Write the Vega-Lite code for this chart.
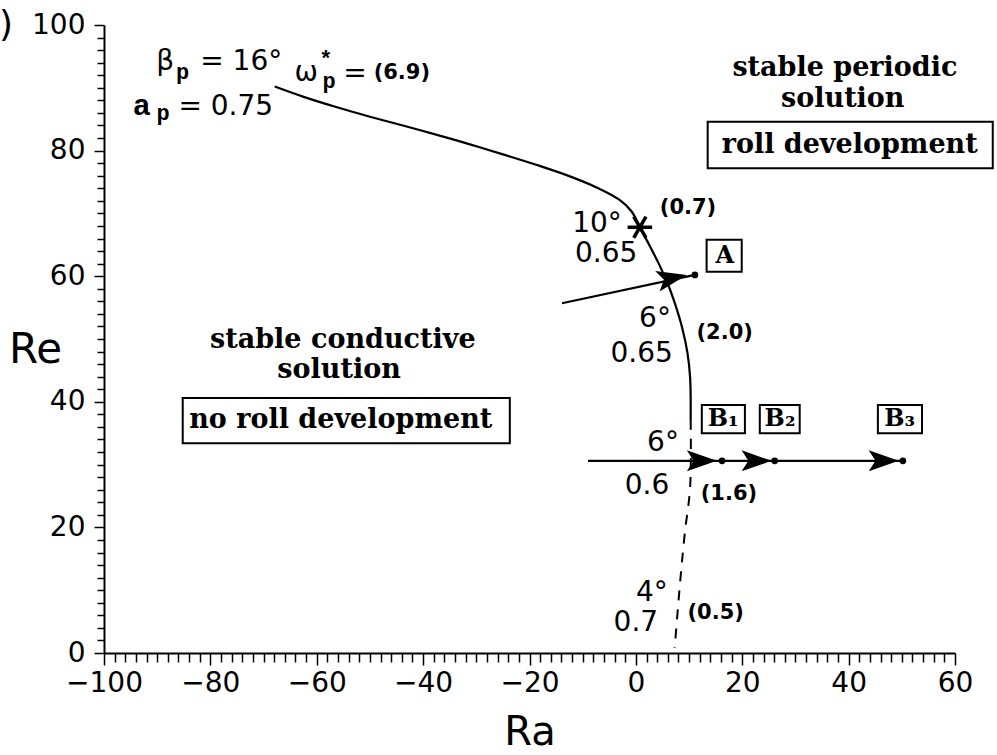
{
  "$schema": "https://vega.github.io/schema/vega-lite/v6.json",
  "width": 851,
  "height": 628,
  "autosize": {"type": "none"},
  "padding": {"left": 104, "top": 25, "right": 42, "bottom": 102},
  "background": "white",
  "config": {
    "view": {"stroke": null},
    "text": {"color": "black"}
  },
  "datasets": {
    "boundary": [
      {"i": 1, "x": -67.9, "y": 90.2},
      {"i": 2, "x": -62.6, "y": 88.6},
      {"i": 3, "x": -56.2, "y": 86.9},
      {"i": 4, "x": -50.0, "y": 85.4},
      {"i": 5, "x": -43.8, "y": 84.0},
      {"i": 6, "x": -37.4, "y": 82.5},
      {"i": 7, "x": -31.2, "y": 81.0},
      {"i": 8, "x": -25.0, "y": 79.4},
      {"i": 9, "x": -18.6, "y": 77.7},
      {"i": 10, "x": -12.4, "y": 75.9},
      {"i": 11, "x": -7.3, "y": 74.1},
      {"i": 12, "x": -3.0, "y": 72.1},
      {"i": 13, "x": -0.8, "y": 70.3},
      {"i": 14, "x": 0.75, "y": 67.8},
      {"i": 15, "x": 2.5, "y": 65.0},
      {"i": 16, "x": 4.3, "y": 62.0},
      {"i": 17, "x": 6.0, "y": 58.8},
      {"i": 18, "x": 7.4, "y": 55.5},
      {"i": 19, "x": 8.7, "y": 51.8},
      {"i": 20, "x": 9.7, "y": 47.8},
      {"i": 21, "x": 10.2, "y": 43.8},
      {"i": 22, "x": 10.3, "y": 37.1}
    ],
    "boundaryDashed": [
      {"i": 1, "x": 10.3, "y": 37.1},
      {"i": 2, "x": 10.2, "y": 26.4},
      {"i": 3, "x": 9.2, "y": 19.1},
      {"i": 4, "x": 8.3, "y": 11.1},
      {"i": 5, "x": 7.3, "y": 0.8}
    ],
    "paths": [
      {"path": "A", "x": -13.9, "y": 55.7},
      {"path": "A", "x": 11.1, "y": 60.2},
      {"path": "B", "x": -9.0, "y": 30.6},
      {"path": "B", "x": 50.2, "y": 30.6}
    ],
    "headA": [{"x": 6.8, "y": 59.7}],
    "headB": [
      {"x": 12.4, "y": 30.6},
      {"x": 22.7, "y": 30.6},
      {"x": 46.6, "y": 30.6}
    ],
    "endpoints": [
      {"name": "A", "x": 11.1, "y": 60.2},
      {"name": "B1", "x": 16.2, "y": 30.6},
      {"name": "B2", "x": 26.1, "y": 30.6},
      {"name": "B3", "x": 50.2, "y": 30.6}
    ],
    "codim2": [{"x": 0.75, "y": 67.8}],
    "frames": [
      {"x": 13.5, "x2": 67.1, "y": 84.6, "y2": 77.2},
      {"x": -85.2, "x2": -23.7, "y": 40.6, "y2": 33.4},
      {"x": 13.3, "x2": 19.9, "y": 65.8, "y2": 60.7},
      {"x": 12.4, "x2": 20.5, "y": 39.5, "y2": 35.0},
      {"x": 23.3, "x2": 30.8, "y": 39.5, "y2": 35.0},
      {"x": 45.5, "x2": 53.8, "y": 39.5, "y2": 35.0}
    ],
    "regionText": [
      {"t": "stable periodic", "x": 39.3, "y": 93.2},
      {"t": "solution", "x": 38.9, "y": 88.2},
      {"t": "roll development", "x": 40.2, "y": 80.9},
      {"t": "stable conductive", "x": -55.1, "y": 49.8},
      {"t": "solution", "x": -55.8, "y": 45.0},
      {"t": "no roll development", "x": -55.5, "y": 37.1}
    ],
    "pointText": [
      {"t": "A", "x": 16.7, "y": 63.2},
      {"t": "B₁", "x": 16.4, "y": 37.3},
      {"t": "B₂", "x": 27.1, "y": 37.3},
      {"t": "B₃", "x": 49.6, "y": 37.3}
    ],
    "paramText": [
      {"t": "10°", "x": -7.3, "y": 68.3},
      {"t": "0.65", "x": -5.6, "y": 63.5},
      {"t": "6°", "x": 3.6, "y": 53.2},
      {"t": "0.65", "x": 1.1, "y": 47.6},
      {"t": "6°", "x": 5.1, "y": 33.4},
      {"t": "0.6", "x": 2.1, "y": 26.6},
      {"t": "4°", "x": 3.0, "y": 9.6},
      {"t": "0.7", "x": 0.0, "y": 4.8},
      {"t": "β", "x": -88.5, "y": 94.1},
      {"t": "= 16°", "x": -74.2, "y": 94.1},
      {"t": "= 0.75", "x": -77.1, "y": 86.9},
      {"t": "ω", "x": -62.0, "y": 92.4},
      {"t": "=", "x": -52.8, "y": 92.2}
    ],
    "freqText": [
      {"t": "(6.9)", "x": -44.0, "y": 92.4},
      {"t": "(0.7)", "x": 9.8, "y": 70.9},
      {"t": "(2.0)", "x": 16.7, "y": 51.0},
      {"t": "(1.6)", "x": 17.5, "y": 25.3},
      {"t": "(0.5)", "x": 15.0, "y": 6.4}
    ],
    "symbolText": [{"t": "a", "x": -92.9, "y": 87.1}],
    "subText": [
      {"t": "p", "x": -88.9, "y": 86.0},
      {"t": "p", "x": -85.2, "y": 92.5},
      {"t": "p", "x": -57.7, "y": 91.1},
      {"t": "*", "x": -58.3, "y": 94.6}
    ],
    "panelTag": [{"t": ")", "x": -118.4, "y": 100}]
  },
  "encoding": {
    "x": {
      "field": "x",
      "type": "quantitative",
      "scale": {"domain": [-100, 60], "nice": false, "zero": false},
      "axis": {
        "title": "Ra",
        "titleFont": "DejaVu Sans",
        "titleFontSize": 40,
        "titleFontWeight": "normal",
        "titleColor": "black",
        "titleBaseline": "alphabetic",
        "titleY": 91,
        "values": [-100,-98,-96,-94,-92,-90,-88,-86,-84,-82,-80,-78,-76,-74,-72,-70,-68,-66,-64,-62,-60,-58,-56,-54,-52,-50,-48,-46,-44,-42,-40,-38,-36,-34,-32,-30,-28,-26,-24,-22,-20,-18,-16,-14,-12,-10,-8,-6,-4,-2,0,2,4,6,8,10,12,14,16,18,20,22,24,26,28,30,32,34,36,38,40,42,44,46,48,50,52,54,56,58,60],
        "labelExpr": "datum.value % 20 === 0 ? datum.label : ''",
        "labelFont": "DejaVu Sans",
        "labelFontSize": 28,
        "labelColor": "black",
        "labelPadding": 4,
        "labelOverlap": false,
        "labelFlush": false,
        "tickSize": {"condition": {"test": "datum.value % 20 === 0", "value": 12}, "value": 9},
        "tickColor": "black",
        "tickWidth": 1.5,
        "domainColor": "black",
        "domainWidth": 2,
        "grid": false
      }
    },
    "y": {
      "field": "y",
      "type": "quantitative",
      "scale": {"domain": [0, 100], "nice": false, "zero": false},
      "axis": {
        "title": "Re",
        "titleFont": "DejaVu Sans",
        "titleFontSize": 42,
        "titleFontWeight": "normal",
        "titleColor": "black",
        "titleAngle": 0,
        "titleAlign": "center",
        "titleBaseline": "alphabetic",
        "titleX": -69,
        "titleY": 337,
        "values": [0,2,4,6,8,10,12,14,16,18,20,22,24,26,28,30,32,34,36,38,40,42,44,46,48,50,52,54,56,58,60,62,64,66,68,70,72,74,76,78,80,82,84,86,88,90,92,94,96,98,100],
        "labelExpr": "datum.value % 20 === 0 ? datum.label : ''",
        "labelFont": "DejaVu Sans",
        "labelFontSize": 28,
        "labelColor": "black",
        "labelPadding": 9,
        "labelOverlap": false,
        "labelFlush": false,
        "tickSize": {"condition": {"test": "datum.value % 20 === 0", "value": 10}, "value": 7},
        "tickColor": "black",
        "tickWidth": 1.5,
        "domainColor": "black",
        "domainWidth": 2,
        "grid": false
      }
    }
  },
  "layer": [
    {
      "data": {"name": "boundary"},
      "mark": {"type": "line", "color": "black", "strokeWidth": 2.2, "interpolate": "catmull-rom"},
      "encoding": {"order": {"field": "i", "type": "quantitative"}}
    },
    {
      "data": {"name": "boundaryDashed"},
      "mark": {"type": "line", "color": "black", "strokeWidth": 2, "strokeDash": [10, 9], "interpolate": "catmull-rom"},
      "encoding": {"order": {"field": "i", "type": "quantitative"}}
    },
    {
      "data": {"name": "paths"},
      "mark": {"type": "line", "color": "black", "strokeWidth": 2.2},
      "encoding": {"detail": {"field": "path", "type": "nominal"}}
    },
    {
      "data": {"name": "headA"},
      "mark": {"type": "point", "shape": "M1,0L-1,-0.7L-0.55,0L-1,0.7Z", "filled": true, "color": "black", "opacity": 1, "size": 900, "angle": -12}
    },
    {
      "data": {"name": "headB"},
      "mark": {"type": "point", "shape": "M1,0L-1,-0.7L-0.55,0L-1,0.7Z", "filled": true, "color": "black", "opacity": 1, "size": 900}
    },
    {
      "data": {"name": "endpoints"},
      "mark": {"type": "point", "shape": "circle", "filled": true, "color": "black", "opacity": 1, "size": 45}
    },
    {
      "data": {"name": "codim2"},
      "mark": {"type": "point", "shape": "M-1,0L1,0M-0.5,-0.866L0.5,0.866M-0.5,0.866L0.5,-0.866", "filled": false, "color": "black", "opacity": 1, "strokeWidth": 3.5, "size": 600}
    },
    {
      "data": {"name": "frames"},
      "mark": {"type": "rect", "fill": null, "fillOpacity": 0, "stroke": "black", "strokeWidth": 2},
      "encoding": {"x2": {"field": "x2"}, "y2": {"field": "y2"}}
    },
    {
      "data": {"name": "regionText"},
      "mark": {"type": "text", "font": "DejaVu Serif", "fontWeight": "bold", "fontSize": 27, "align": "center", "baseline": "middle"},
      "encoding": {"text": {"field": "t"}}
    },
    {
      "data": {"name": "pointText"},
      "mark": {"type": "text", "font": "DejaVu Serif", "fontWeight": "bold", "fontSize": 24, "align": "center", "baseline": "middle"},
      "encoding": {"text": {"field": "t"}}
    },
    {
      "data": {"name": "paramText"},
      "mark": {"type": "text", "font": "DejaVu Sans", "fontSize": 28, "align": "center", "baseline": "middle"},
      "encoding": {"text": {"field": "t"}}
    },
    {
      "data": {"name": "freqText"},
      "mark": {"type": "text", "font": "DejaVu Sans", "fontWeight": "bold", "fontSize": 21, "align": "center", "baseline": "middle"},
      "encoding": {"text": {"field": "t"}}
    },
    {
      "data": {"name": "symbolText"},
      "mark": {"type": "text", "font": "Liberation Mono", "fontWeight": "bold", "fontSize": 30, "align": "center", "baseline": "middle"},
      "encoding": {"text": {"field": "t"}}
    },
    {
      "data": {"name": "subText"},
      "mark": {"type": "text", "font": "Liberation Mono", "fontWeight": "bold", "fontSize": 22, "align": "center", "baseline": "middle"},
      "encoding": {"text": {"field": "t"}}
    },
    {
      "data": {"name": "panelTag"},
      "mark": {"type": "text", "font": "DejaVu Sans", "fontSize": 36, "align": "center", "baseline": "middle"},
      "encoding": {"text": {"field": "t"}}
    }
  ]
}
